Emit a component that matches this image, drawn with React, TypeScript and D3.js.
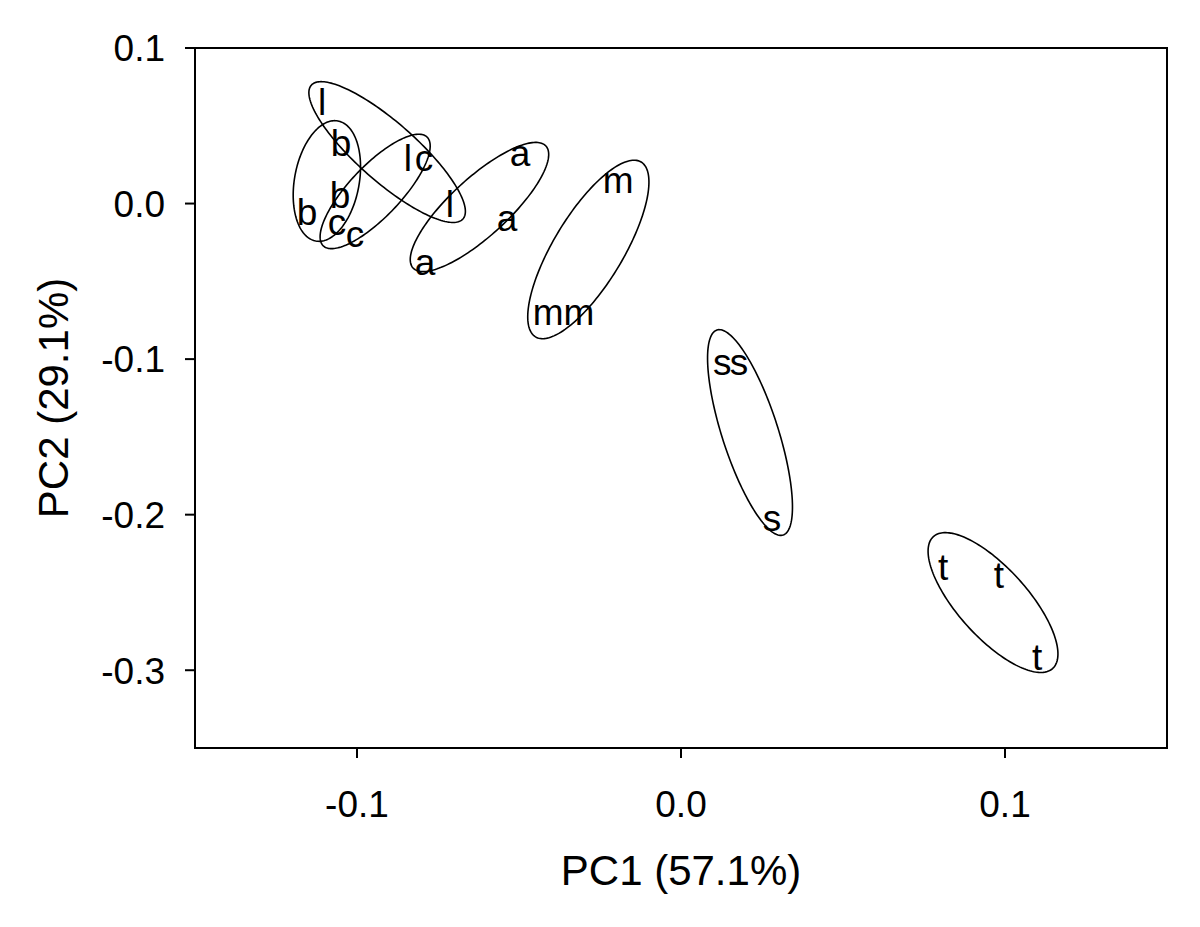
import React, { useRef, useEffect } from "react";
import * as d3 from "d3";

// PCA scores, one letter per sample
const pointLabels = ["l", "l", "l", "b", "b", "b", "c", "c", "c", "a", "a", "a", "m", "m", "m", "s", "s", "s", "t", "t", "t"];
const pc1Scores = [-0.1108, -0.0843, -0.0713, -0.1049, -0.1154, -0.1052, -0.0793, -0.1062, -0.1006, -0.0497, -0.0537, -0.079, -0.0194, -0.041, -0.0315, 0.0127, 0.0179, 0.0281, 0.0809, 0.0981, 0.1099];
const pc2Scores = [0.0653, 0.0293, -0.0003, 0.0389, -0.0054, 0.0055, 0.0293, -0.0119, -0.0196, 0.0325, -0.0093, -0.0376, 0.0151, -0.0697, -0.0697, -0.1019, -0.1019, -0.2021, -0.2336, -0.2388, -0.2915];

// group ellipses: centre, end of the major axis, minor/major ratio
const ellipseGroups = ["l", "b", "c", "a", "m", "s", "t"];
const ellipseCx = [-0.0907, -0.1093, -0.0944, -0.0622, -0.0286, 0.0213, 0.0963];
const ellipseCy = [0.0331, 0.0145, 0.0078, -0.0022, -0.0295, -0.1472, -0.2565];
const ellipseEndX = [-0.0673, -0.1059, -0.0784, -0.0417, -0.0123, 0.0315, 0.1147];
const ellipseEndY = [-0.0099, 0.0531, 0.0428, 0.037, 0.0267, -0.2131, -0.2989];
const ellipseRatio = [0.29, 0.53, 0.34, 0.32, 0.34, 0.26, 0.39];

const xTicks = [-0.1, 0.0, 0.1];
const yTicks = [0.1, 0.0, -0.1, -0.2, -0.3];

const App = () => {
  const ref = useRef<SVGSVGElement>(null);
  const width = 1200;
  const height = 927;
  const left = 195, right = 1167, top = 48, bottom = 748;
  const font = "'Liberation Sans', Arial, sans-serif";

  useEffect(() => {
    const svg = d3.select(ref.current);
    svg.selectAll("*").remove();

    const x = d3.scaleLinear().domain([-0.15, 0.15]).range([left, right]);
    const y = d3.scaleLinear().domain([0.1, -0.35]).range([top, bottom]);

    // ellipses
    const line = d3.line().curve(d3.curveLinearClosed);
    ellipseGroups.forEach((g, i) => {
      const cx = x(ellipseCx[i]);
      const cy = y(ellipseCy[i]);
      const ax = x(ellipseEndX[i]) - cx;
      const ay = y(ellipseEndY[i]) - cy;
      const bx = -ay * ellipseRatio[i];
      const by = ax * ellipseRatio[i];
      const pts = d3.range(0, 2 * Math.PI, Math.PI / 90).map((t) => [
        cx + ax * Math.cos(t) + bx * Math.sin(t),
        cy + ay * Math.cos(t) + by * Math.sin(t),
      ] as [number, number]);
      svg
        .append("path")
        .attr("d", line(pts))
        .attr("fill", "none")
        .attr("stroke", "#000")
        .attr("stroke-width", 1.6);
    });

    // letters
    svg
      .append("g")
      .selectAll("text")
      .data(pointLabels)
      .enter()
      .append("text")
      .attr("x", (d, i) => x(pc1Scores[i]))
      .attr("y", (d, i) => y(pc2Scores[i]))
      .attr("dy", "0.35em")
      .attr("text-anchor", "middle")
      .attr("font-family", font)
      .attr("font-size", 37)
      .text((d) => d);

    // frame
    svg
      .append("rect")
      .attr("x", left)
      .attr("y", top)
      .attr("width", right - left)
      .attr("height", bottom - top)
      .attr("fill", "none")
      .attr("stroke", "#000")
      .attr("stroke-width", 2);

    // x axis
    const xa = svg.append("g");
    xa.selectAll("line")
      .data(xTicks)
      .enter()
      .append("line")
      .attr("x1", (d) => x(d))
      .attr("x2", (d) => x(d))
      .attr("y1", bottom)
      .attr("y2", bottom + 10)
      .attr("stroke", "#000")
      .attr("stroke-width", 2);
    xa.selectAll("text")
      .data(xTicks)
      .enter()
      .append("text")
      .attr("x", (d) => x(d))
      .attr("y", 817)
      .attr("text-anchor", "middle")
      .attr("font-family", font)
      .attr("font-size", 37)
      .text((d) => d.toFixed(1));

    // y axis
    const ya = svg.append("g");
    ya.selectAll("line")
      .data(yTicks)
      .enter()
      .append("line")
      .attr("x1", left - 10)
      .attr("x2", left)
      .attr("y1", (d) => y(d))
      .attr("y2", (d) => y(d))
      .attr("stroke", "#000")
      .attr("stroke-width", 2);
    ya.selectAll("text")
      .data(yTicks)
      .enter()
      .append("text")
      .attr("x", 165)
      .attr("y", (d) => y(d))
      .attr("dy", "0.36em")
      .attr("text-anchor", "end")
      .attr("font-family", font)
      .attr("font-size", 37)
      .text((d) => d.toFixed(1));

    // titles
    svg
      .append("text")
      .attr("x", (left + right) / 2)
      .attr("y", 885)
      .attr("text-anchor", "middle")
      .attr("font-family", font)
      .attr("font-size", 42)
      .text("PC1 (57.1%)");
    svg
      .append("text")
      .attr("transform", `translate(68, ${(top + bottom) / 2}) rotate(-90)`)
      .attr("text-anchor", "middle")
      .attr("font-family", font)
      .attr("font-size", 42)
      .text("PC2 (29.1%)");
  }, []);

  return (
    <svg
      ref={ref}
      width={width}
      height={height}
      style={{ position: "absolute", left: 0, top: 0, background: "#fff" }}
    ></svg>
  );
};

export default App;
